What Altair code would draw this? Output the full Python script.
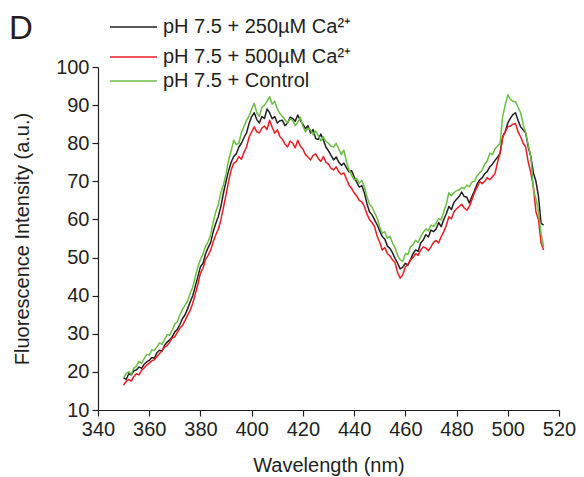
import altair as alt
import pandas as pd

wavelength = list(range(350, 515))

black_250 = [
    18.5, 18.0, 19.5, 19.2, 20.3, 20.5, 21.3, 20.9, 22.0, 22.6,
    23.0, 23.8, 23.6, 25.0, 25.7, 25.4, 27.0, 27.8, 28.4, 29.2,
    30.5, 31.2, 32.5, 34.0, 35.0, 36.6, 38.4, 40.0, 42.5, 45.0,
    47.6, 48.5, 51.0, 52.6, 54.0, 56.8, 59.0, 60.8, 63.5, 67.0,
    70.0, 72.8, 75.0, 76.5, 77.2, 79.0, 80.0, 81.5, 82.7, 85.2,
    87.0, 88.0, 86.2, 85.3, 87.0, 86.5, 89.0, 88.0, 86.4, 87.0,
    85.3, 85.9, 86.0, 84.6, 85.3, 86.8, 86.5, 85.8, 87.4, 86.0,
    85.0, 83.8, 84.6, 82.7, 83.6, 81.2, 81.0, 82.4, 80.8, 79.0,
    78.0, 76.8, 75.6, 76.4, 75.0, 74.2, 74.8, 73.6, 72.5, 72.8,
    71.2, 69.8, 68.5, 68.9, 67.0, 64.2, 62.0, 61.2, 59.9, 58.6,
    57.0, 55.5, 54.8, 53.0, 52.4, 51.2, 49.8, 48.5, 47.0, 47.5,
    48.5, 48.0, 49.4, 51.0, 52.0, 51.6, 53.8, 54.6, 56.0, 55.4,
    57.2, 56.8, 57.5, 59.2, 58.1, 60.0, 61.5, 63.4, 62.6, 64.5,
    65.3, 66.0, 67.2, 66.0, 65.8, 64.3, 66.0, 67.5, 69.2, 70.4,
    70.9, 72.0, 72.6, 73.8, 74.5, 75.5, 76.3, 77.4, 81.7, 83.0,
    85.3, 86.5, 87.5, 88.0, 86.0, 84.3, 83.5, 82.7, 79.0, 76.5,
    72.2, 70.0, 66.0, 59.0, 58.5,
]

red_500 = [
    16.5, 17.5, 18.0, 17.6, 18.8, 19.5, 19.2, 20.4, 21.0, 21.8,
    22.3, 22.9, 23.2, 24.0, 24.8, 25.5, 26.5, 26.9, 27.8, 28.9,
    29.2, 30.4, 31.5, 32.2, 33.5, 34.9, 36.2, 38.0, 40.5, 43.0,
    45.9, 47.2, 49.5, 50.6, 52.0, 54.2, 56.0, 57.5, 60.0, 63.2,
    66.5, 70.0, 73.0, 74.8, 75.2, 76.5, 75.8, 77.6, 79.0, 81.6,
    83.0, 84.3, 83.0, 82.7, 84.0, 84.5, 83.6, 86.0, 84.2, 82.6,
    83.5, 81.8, 81.0, 79.8, 79.0, 80.6, 80.0, 78.8, 80.8, 79.2,
    78.5, 77.0, 76.4, 75.6, 76.8, 77.2, 76.0, 75.2, 76.5, 75.0,
    74.5, 73.4, 73.0, 73.8, 72.5, 71.8, 72.2, 70.6, 69.0, 68.2,
    67.0, 66.2, 65.0, 64.6, 63.4, 61.4, 60.0, 59.2, 58.1, 55.6,
    54.0, 52.0, 52.6, 51.0, 50.4, 49.4, 48.6, 46.0, 44.6, 45.5,
    47.5, 48.2, 49.4, 50.0, 51.0, 50.6, 52.0, 52.8, 52.5, 51.8,
    52.8, 54.0, 54.5, 53.8, 55.5, 56.8, 58.5, 60.7, 60.2, 62.0,
    62.8, 63.4, 64.0, 63.0, 62.4, 63.4, 65.2, 67.0, 68.4, 69.9,
    69.4, 70.0, 71.0, 70.4, 71.2, 72.0, 75.0, 77.4, 81.5, 83.0,
    84.3, 84.5, 85.0, 85.2, 83.0, 81.7, 80.0, 79.0, 75.0, 72.2,
    68.6, 62.0, 59.9, 53.8, 52.0,
]

green_ctrl = [
    18.5, 19.6, 20.0, 19.4, 21.0, 21.5, 22.8, 22.2, 23.5, 24.6,
    24.4, 25.8, 25.6, 26.5, 27.6, 27.2, 28.5, 29.8, 29.6, 31.0,
    32.6, 33.2, 35.0, 36.4, 37.5, 38.6, 40.7, 42.2, 45.0, 47.6,
    49.4, 51.0, 53.0, 54.2, 56.0, 59.4, 62.0, 64.0, 67.0, 69.2,
    72.0, 75.6, 78.0, 80.8, 79.6, 80.0, 82.8, 84.4, 86.0, 87.2,
    89.0, 90.5, 88.0, 87.0, 89.4, 90.0, 91.0, 92.2, 90.2, 91.0,
    89.0, 87.8, 87.0, 86.2, 85.3, 86.4, 86.0, 84.6, 85.5, 86.8,
    84.5, 83.0, 84.0, 83.5, 82.2, 83.2, 82.0, 80.6, 81.7, 80.4,
    80.0, 79.2, 79.0, 80.0, 78.5, 77.0, 78.2, 75.2, 73.0, 71.6,
    70.4, 70.8, 69.5, 70.2, 68.6, 66.0, 64.0, 63.2, 61.7, 60.4,
    58.0, 56.4, 56.8, 55.0, 55.6, 53.8, 52.6, 50.5, 49.4, 49.0,
    51.0, 50.8, 52.8, 53.4, 54.5, 54.0, 55.5, 56.6, 57.5, 57.0,
    58.5, 58.2, 59.0, 60.2, 59.9, 62.0, 64.0, 67.0, 66.2, 67.0,
    67.6, 67.7, 68.4, 68.0, 69.0, 68.6, 69.8, 70.0, 71.4, 72.2,
    73.0, 74.5, 75.4, 77.4, 77.0, 78.5, 79.2, 80.0, 87.0, 90.0,
    92.7, 91.5, 91.0, 90.9, 89.5, 88.0, 85.0, 82.7, 79.5, 76.5,
    67.7, 65.5, 62.0, 56.4, 52.8,
]

series_names = [
    "pH 7.5 + 250\u00b5M Ca\u00b2\u207a",
    "pH 7.5 + 500\u00b5M Ca\u00b2\u207a",
    "pH 7.5 + Control",
]
series_colors = ["#231f20", "#ed1c24", "#6abd45"]
x_ticks = [340, 360, 380, 400, 420, 440, 460, 480, 500, 520]
y_ticks = [10, 20, 30, 40, 50, 60, 70, 80, 90, 100]

rows = []
for name, vals in zip(series_names, [black_250, red_500, green_ctrl]):
    for w, v in zip(wavelength, vals):
        rows.append({"wavelength": w, "intensity": v, "series": name})
df = pd.DataFrame(rows)

FONT = "Liberation Sans"
FS = 20

lines = alt.Chart(df).mark_line(strokeWidth=1.5, strokeJoin="round").encode(
    x=alt.X(
        "wavelength:Q",
        scale=alt.Scale(domain=[340, 520], nice=False, zero=False),
        axis=alt.Axis(
            values=x_ticks, title="Wavelength (nm)", grid=False,
            tickSize=6, labelPadding=3, titlePadding=16,
            labelFlush=False, labelOverlap=False,
        ),
    ),
    y=alt.Y(
        "intensity:Q",
        scale=alt.Scale(domain=[10, 100], nice=False, zero=False),
        axis=alt.Axis(
            values=y_ticks, title="Fluorescence Intensity (a.u.)", grid=False,
            tickSize=6, labelPadding=3, titlePadding=23,
            labelFlush=False, labelOverlap=False,
        ),
    ),
    color=alt.Color(
        "series:N",
        scale=alt.Scale(domain=series_names, range=series_colors),
        legend=None,
    ),
    order=alt.Order("wavelength:Q"),
)

# manual legend (layout positions relative to plot origin)
legend_rows = [-40, -10, 14]
legend_layers = []
for name, color, yy in zip(series_names, series_colors, legend_rows):
    src = pd.DataFrame({"label": [name]})
    legend_layers.append(
        alt.Chart(src).mark_rule(color=color, strokeWidth=1.5).encode(
            x=alt.value(12), x2=alt.value(59), y=alt.value(yy)
        )
    )
    legend_layers.append(
        alt.Chart(src).mark_text(
            font=FONT, fontSize=FS, align="left", baseline="middle", color="#231f20"
        ).encode(text="label:N", x=alt.value(65), y=alt.value(yy))
    )

panel = alt.Chart(pd.DataFrame({"t": ["D"]})).mark_text(
    fontSize=33, font=FONT, align="left", baseline="alphabetic", color="#231f20"
).encode(text="t:N", x=alt.value(-89), y=alt.value(-28))

chart = alt.layer(lines, *legend_layers, panel).properties(
    width=461, height=343,
    autosize=alt.AutoSizeParams(type="none"),
    padding={"left": 98, "top": 67, "right": 25, "bottom": 67},
).configure_view(stroke=None).configure_axis(
    domainColor="#231f20", tickColor="#231f20", labelColor="#231f20",
    titleColor="#231f20", labelFont=FONT, titleFont=FONT,
    labelFontSize=FS, titleFontSize=FS, titleFontWeight="normal",
    domainWidth=1.2, tickWidth=1.2,
)

chart.save("out.html", embed_options={"renderer": "svg", "actions": False})
